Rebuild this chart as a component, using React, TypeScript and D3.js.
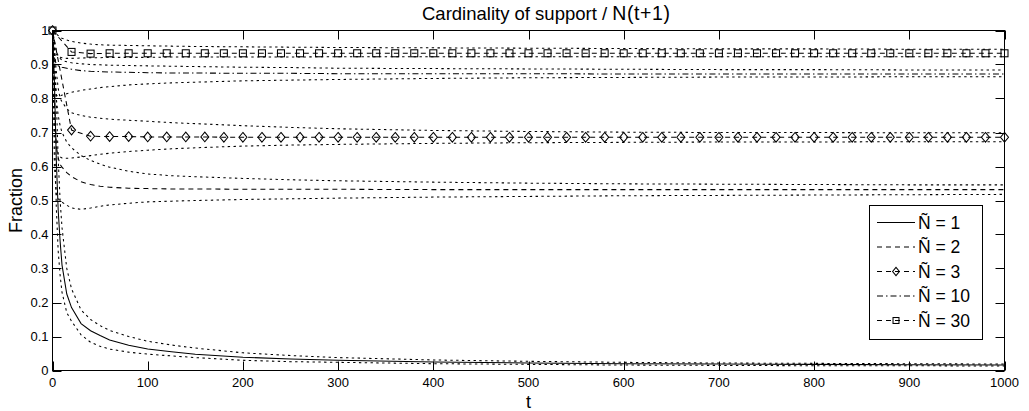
import React from 'react';
import * as d3 from 'd3';

const W = 1029;
const H = 411;
const PLOT = { left: 52.5, right: 1004.5, top: 30.5, bottom: 370.5 };

const titleMain = 'Cardinality of support / ';
const titleTail = 'N(t+1)';
const xLabel = 't';
const yLabel = 'Fraction';
const xTicks = [0, 100, 200, 300, 400, 500, 600, 700, 800, 900, 1000];
const yTicks = [0, 0.1, 0.2, 0.3, 0.4, 0.5, 0.6, 0.7, 0.8, 0.9, 1];
const yTickLabels = ['0', '0.1', '0.2', '0.3', '0.4', '0.5', '0.6', '0.7', '0.8', '0.9', '1'];
const legendLabels = ['Ñ = 1', 'Ñ = 2', 'Ñ = 3', 'Ñ = 10', 'Ñ = 30'];

// time grid of the unmarked curves
const tFine = [0, 2, 4, 6, 8, 10, 15, 20, 30, 40, 50, 60, 80, 100, 125, 150, 200, 250, 300, 400, 500, 600, 700, 800, 900, 1000];
// time grid of the marked curves (one marker every 20 steps)
const tMarked = d3.range(0, 1001, 20);

// Ñ = 1
const n1Mean = [1, 0.85, 0.62, 0.47, 0.38, 0.31, 0.225, 0.185, 0.138, 0.117, 0.103, 0.09, 0.074, 0.063, 0.055, 0.048, 0.039, 0.034, 0.03, 0.025, 0.022, 0.02, 0.019, 0.018, 0.017, 0.016];
const n1Upper = [1, 0.95, 0.8, 0.62, 0.5, 0.42, 0.3, 0.24, 0.178, 0.15, 0.132, 0.118, 0.1, 0.086, 0.075, 0.066, 0.052, 0.044, 0.038, 0.031, 0.027, 0.024, 0.022, 0.021, 0.02, 0.019];
const n1Lower = [1, 0.72, 0.48, 0.35, 0.28, 0.23, 0.17, 0.145, 0.105, 0.083, 0.071, 0.063, 0.054, 0.048, 0.043, 0.038, 0.03, 0.026, 0.024, 0.02, 0.018, 0.016, 0.015, 0.014, 0.014, 0.013];

// Ñ = 2
const n2Mean = [1, 0.8, 0.66, 0.625, 0.606, 0.598, 0.582, 0.57, 0.555, 0.547, 0.542, 0.539, 0.536, 0.535, 0.534, 0.534, 0.533, 0.533, 0.533, 0.532, 0.532, 0.532, 0.532, 0.532, 0.532, 0.532];
const n2Upper = [1, 0.9, 0.8, 0.75, 0.72, 0.7, 0.672, 0.655, 0.632, 0.618, 0.607, 0.598, 0.586, 0.578, 0.573, 0.57, 0.565, 0.561, 0.558, 0.554, 0.551, 0.549, 0.548, 0.547, 0.546, 0.546];
const n2Lower = [1, 0.6, 0.52, 0.505, 0.5, 0.495, 0.486, 0.478, 0.474, 0.478, 0.483, 0.487, 0.492, 0.496, 0.498, 0.5, 0.503, 0.505, 0.507, 0.51, 0.512, 0.514, 0.515, 0.516, 0.517, 0.518];

// Ñ = 3
const n3Mean = [
  1, 0.707, 0.689, 0.688, 0.688, 0.687, 0.687, 0.687, 0.687, 0.686,
  0.686, 0.686, 0.686, 0.686, 0.686, 0.686, 0.686, 0.686, 0.686, 0.686,
  0.686, 0.686, 0.686, 0.686, 0.686, 0.686, 0.686, 0.686, 0.686, 0.686,
  0.686, 0.686, 0.686, 0.686, 0.686, 0.686, 0.686, 0.686, 0.686, 0.686,
  0.686, 0.686, 0.686, 0.686, 0.686, 0.686, 0.686, 0.686, 0.686, 0.686,
  0.686,
];
const n3Upper = [1, 0.95, 0.88, 0.83, 0.8, 0.79, 0.77, 0.758, 0.75, 0.745, 0.742, 0.739, 0.736, 0.733, 0.729, 0.726, 0.72, 0.715, 0.711, 0.706, 0.703, 0.701, 0.7, 0.7, 0.699, 0.699];
const n3Lower = [1, 0.75, 0.66, 0.635, 0.628, 0.625, 0.624, 0.625, 0.628, 0.632, 0.636, 0.639, 0.644, 0.648, 0.652, 0.655, 0.66, 0.663, 0.665, 0.668, 0.67, 0.671, 0.672, 0.672, 0.673, 0.673];

// Ñ = 10
const n10Mean = [1, 0.92, 0.9, 0.896, 0.894, 0.892, 0.889, 0.886, 0.882, 0.88, 0.879, 0.878, 0.877, 0.876, 0.875, 0.875, 0.874, 0.874, 0.873, 0.873, 0.873, 0.872, 0.872, 0.872, 0.872, 0.872];
const n10Upper = [1, 0.97, 0.94, 0.925, 0.918, 0.912, 0.908, 0.905, 0.902, 0.9, 0.899, 0.898, 0.897, 0.896, 0.895, 0.894, 0.892, 0.891, 0.889, 0.888, 0.887, 0.886, 0.885, 0.885, 0.884, 0.884];
const n10Lower = [1, 0.85, 0.81, 0.806, 0.807, 0.81, 0.814, 0.818, 0.824, 0.828, 0.832, 0.835, 0.84, 0.843, 0.846, 0.848, 0.852, 0.854, 0.856, 0.859, 0.861, 0.862, 0.863, 0.863, 0.864, 0.864];

// Ñ = 30
const n30Mean = [
  1, 0.937, 0.932, 0.933, 0.933, 0.933, 0.933, 0.933, 0.933, 0.933,
  0.933, 0.933, 0.933, 0.933, 0.933, 0.933, 0.933, 0.933, 0.933, 0.933,
  0.933, 0.933, 0.933, 0.933, 0.933, 0.933, 0.933, 0.933, 0.933, 0.933,
  0.933, 0.933, 0.933, 0.933, 0.933, 0.933, 0.933, 0.933, 0.933, 0.933,
  0.933, 0.933, 0.933, 0.933, 0.933, 0.933, 0.933, 0.933, 0.933, 0.933,
  0.933,
];
const n30Upper = [1, 0.995, 0.99, 0.985, 0.98, 0.977, 0.972, 0.968, 0.963, 0.96, 0.958, 0.957, 0.956, 0.955, 0.954, 0.953, 0.952, 0.951, 0.95, 0.949, 0.948, 0.947, 0.946, 0.946, 0.945, 0.945];
const n30Lower = [1, 0.95, 0.93, 0.924, 0.921, 0.92, 0.918, 0.918, 0.919, 0.92, 0.92, 0.921, 0.921, 0.921, 0.922, 0.922, 0.922, 0.922, 0.923, 0.923, 0.923, 0.923, 0.923, 0.923, 0.923, 0.923];

const FONT = '"Liberation Sans", Arial, Helvetica, sans-serif';
const DASH = '5,4';
const DOT = '2.4,3.4';
const DASHDOT = '6,3,1.5,3';
const SW = 1.05;

type Marker = 'none' | 'diamond' | 'square';

function MarkerShape({ kind, cx, cy, s = 1 }: { kind: Marker; cx: number; cy: number; s?: number }) {
  if (kind === 'diamond') {
    const hw = 4 * s, hh = 4.8 * s;
    return (
      <path
        d={`M${cx},${cy - hh}L${cx + hw},${cy}L${cx},${cy + hh}L${cx - hw},${cy}Z`}
        fill="none"
        stroke="#000"
        strokeWidth={SW}
      />
    );
  }
  if (kind === 'square') {
    const h = 3.5 * s;
    return <rect x={cx - h} y={cy - h} width={2 * h} height={2 * h} fill="none" stroke="#000" strokeWidth={SW} />;
  }
  return null;
}

export default function App() {
  const x = d3.scaleLinear().domain([0, 1000]).range([PLOT.left, PLOT.right]);
  const y = d3.scaleLinear().domain([0, 1]).range([PLOT.bottom, PLOT.top]);
  const line = d3
    .line<[number, number]>()
    .x((d) => x(d[0]))
    .y((d) => y(d[1]));

  const zipFine = (v: number[]) => tFine.map((t, i) => [t, v[i]] as [number, number]);
  const zipMarked = (v: number[]) => tMarked.map((t, i) => [t, v[i]] as [number, number]);

  const bands: [number, number][][] = [
    zipFine(n1Upper), zipFine(n1Lower),
    zipFine(n2Upper), zipFine(n2Lower),
    zipFine(n3Upper), zipFine(n3Lower),
    zipFine(n10Upper), zipFine(n10Lower),
    zipFine(n30Upper), zipFine(n30Lower),
  ];

  const means: { pts: [number, number][]; dash: string | undefined; marker: Marker }[] = [
    { pts: zipFine(n1Mean), dash: undefined, marker: 'none' },
    { pts: zipFine(n2Mean), dash: DASH, marker: 'none' },
    { pts: zipMarked(n3Mean), dash: DASH, marker: 'diamond' },
    { pts: zipFine(n10Mean), dash: DASHDOT, marker: 'none' },
    { pts: zipMarked(n30Mean), dash: DASH, marker: 'square' },
  ];

  const tickLen = 9;
  const legend = { x0: 869.5, y0: 205.5, x1: 982.5, y1: 339.5, rowH: 24.5, first: 222.5, lx0: 877, lx1: 915, tx: 918 };

  return (
    <svg
      width={W}
      height={H}
      viewBox={`0 0 ${W} ${H}`}
      style={{ position: 'absolute', left: 0, top: 0, background: '#fff' }}
      fontFamily={FONT}
    >
      <rect x={0} y={0} width={W} height={H} fill="#fff" />

      {/* bands */}
      <g fill="none" stroke="#000" strokeWidth={SW} strokeDasharray={DOT}>
        {bands.map((b, i) => (
          <path key={i} d={line(b) || ''} />
        ))}
      </g>

      {/* means */}
      <g fill="none" stroke="#000" strokeWidth={SW}>
        {means.map((m, i) => (
          <path key={i} d={line(m.pts) || ''} strokeDasharray={m.dash} />
        ))}
      </g>
      {means.map((m, i) =>
        m.marker === 'none'
          ? null
          : m.pts.map((p, j) => <MarkerShape key={`${i}-${j}`} kind={m.marker} cx={x(p[0])} cy={y(p[1])} />)
      )}

      {/* axes box */}
      <rect
        x={PLOT.left}
        y={PLOT.top}
        width={PLOT.right - PLOT.left}
        height={PLOT.bottom - PLOT.top}
        fill="none"
        stroke="#000"
        strokeWidth={1}
      />

      {/* ticks */}
      <g stroke="#000" strokeWidth={1}>
        {xTicks.map((t) => (
          <g key={`xt${t}`}>
            <line x1={Math.round(x(t)) + 0.5} x2={Math.round(x(t)) + 0.5} y1={PLOT.bottom} y2={PLOT.bottom - tickLen} />
            <line x1={Math.round(x(t)) + 0.5} x2={Math.round(x(t)) + 0.5} y1={PLOT.top} y2={PLOT.top + tickLen} />
          </g>
        ))}
        {yTicks.map((v) => (
          <g key={`yt${v}`}>
            <line x1={PLOT.left} x2={PLOT.left + tickLen} y1={Math.round(y(v)) + 0.5} y2={Math.round(y(v)) + 0.5} />
            <line x1={PLOT.right} x2={PLOT.right - tickLen} y1={Math.round(y(v)) + 0.5} y2={Math.round(y(v)) + 0.5} />
          </g>
        ))}
      </g>

      {/* tick labels */}
      <g fontSize={13} fill="#000">
        {xTicks.map((t) => (
          <text key={`xl${t}`} x={x(t)} y={386.5} textAnchor="middle">
            {t}
          </text>
        ))}
        {yTicks.map((v, i) => (
          <text key={`yl${v}`} x={48.5} y={y(v) + 4.7} textAnchor="end">
            {yTickLabels[i]}
          </text>
        ))}
      </g>

      {/* axis labels and title */}
      <text x={(PLOT.left + PLOT.right) / 2} y={407.5} textAnchor="middle" fontSize={18}>
        {xLabel}
      </text>
      <text
        transform={`translate(22,${(PLOT.top + PLOT.bottom) / 2}) rotate(-90)`}
        textAnchor="middle"
        fontSize={18}
      >
        {yLabel}
      </text>
      <text x={422} y={20} fontSize={18.5}>
        {titleMain}
        <tspan fontSize={19.5} letterSpacing={0.6}>{titleTail}</tspan>
      </text>

      {/* legend */}
      <rect
        x={legend.x0}
        y={legend.y0}
        width={legend.x1 - legend.x0}
        height={legend.y1 - legend.y0}
        fill="#fff"
        stroke="#000"
        strokeWidth={1}
      />
      {means.map((m, i) => {
        const cy = legend.first + i * legend.rowH;
        return (
          <g key={`lg${i}`}>
            <line
              x1={legend.lx0}
              x2={legend.lx1}
              y1={cy}
              y2={cy}
              stroke="#000"
              strokeWidth={SW}
              strokeDasharray={m.dash}
            />
            <MarkerShape kind={m.marker} cx={(legend.lx0 + legend.lx1) / 2} cy={cy} s={0.85} />
            <text x={legend.tx} y={cy + 6.3} fontSize={17.5}>
              {legendLabels[i]}
            </text>
          </g>
        );
      })}
    </svg>
  );
}
